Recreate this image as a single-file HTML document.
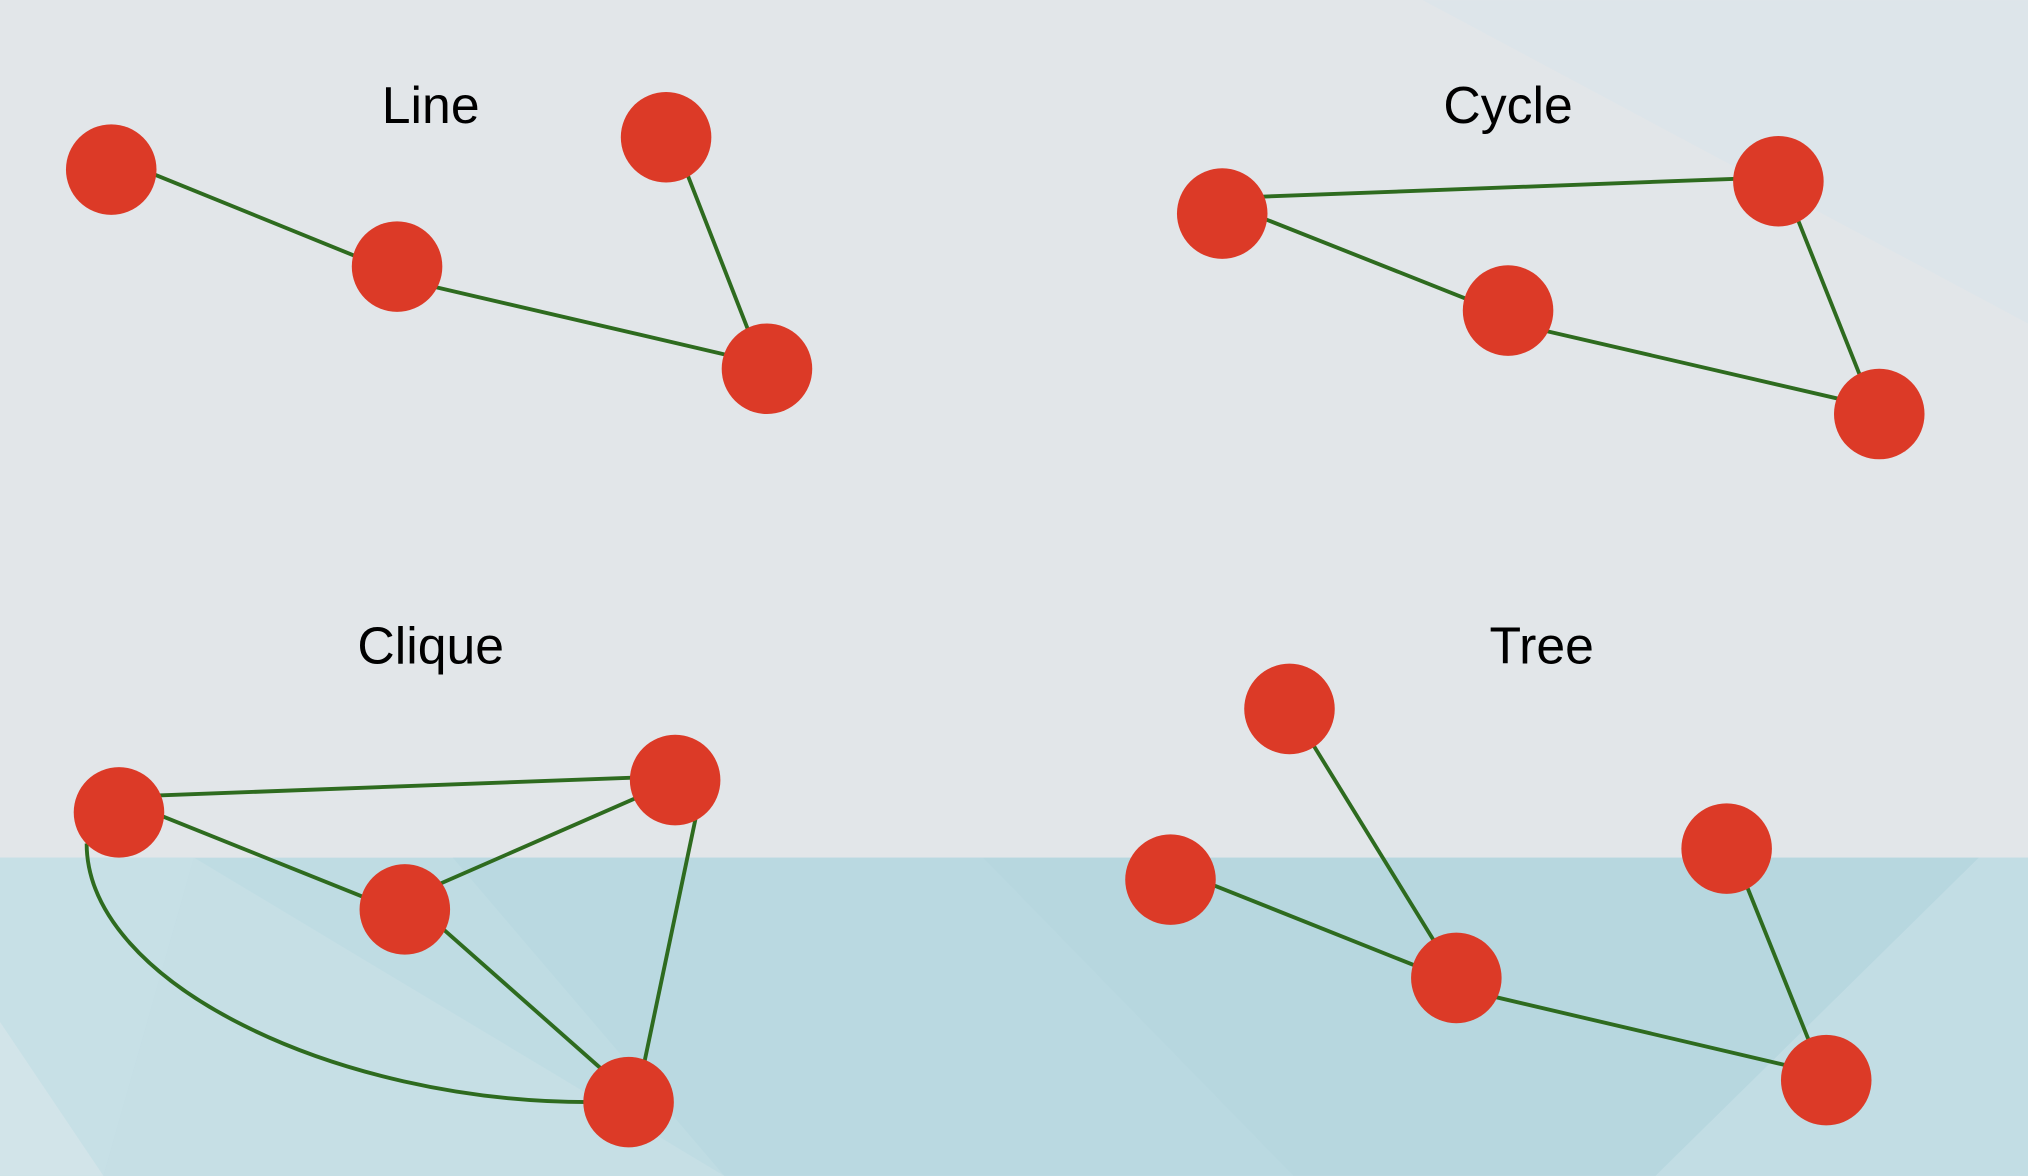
<!DOCTYPE html>
<html><head><meta charset="utf-8"><style>
html,body{margin:0;padding:0;width:2028px;height:1176px;overflow:hidden;background:#e2e6e9}
svg{display:block}
text{font-family:"Liberation Sans",sans-serif;font-size:40px;fill:#000;text-anchor:middle}
</style></head><body>
<svg width="2028" height="1176" viewBox="0 0 1568 909" xmlns="http://www.w3.org/2000/svg">
<rect x="0" y="0" width="1568" height="663" fill="#e2e6e9"/>
<polygon points="1100,0 1568,0 1568,250" fill="#dbe4e9" opacity="0.7"/>
<rect x="0" y="663" width="1568" height="246" fill="#bfdce3"/>
<polygon points="0,663 150,663 80,909 0,909" fill="#c7e0e6"/>
<polygon points="350,663 760,663 1000,909 560,909" fill="#bad9e1"/>
<polygon points="760,663 1530,663 1280,909 1000,909" fill="#b7d7df"/>
<polygon points="1530,663 1568,663 1568,909 1280,909" fill="#c2dde4"/>
<polygon points="0,790 80,909 0,909" fill="#d2e4e9"/>
<polygon points="80,909 150,663 560,909" fill="#c6dfe5"/>
<g stroke="#2e6b1f" stroke-width="3" fill="none">
<line x1="115" y1="133" x2="280" y2="200"/><line x1="333" y1="221" x2="565" y2="275"/><line x1="530" y1="131" x2="580" y2="259"/>
<line x1="973" y1="152" x2="1345" y2="138"/><line x1="975" y1="168" x2="1139" y2="233"/><line x1="1192" y1="255" x2="1425" y2="309"/><line x1="1389" y1="167" x2="1440" y2="295"/>
<line x1="120" y1="615" x2="493" y2="601"/><line x1="123" y1="630" x2="285" y2="695"/><line x1="336" y1="685" x2="496" y2="615"/><line x1="339" y1="715" x2="468" y2="829"/><line x1="539" y1="627" x2="497" y2="827"/>
<path d="M67,652 C67,760 260,852 455,852"/>
<line x1="1013" y1="572" x2="1111" y2="731"/><line x1="935" y1="683" x2="1098" y2="748"/><line x1="1153" y1="770" x2="1383" y2="824"/><line x1="1349" y1="681" x2="1400" y2="808"/>
</g>
<g fill="#dc3a27">
<circle cx="86" cy="131" r="35"/><circle cx="307" cy="206" r="35"/><circle cx="515" cy="106" r="35"/><circle cx="593" cy="285" r="35"/>
<circle cx="945" cy="165" r="35"/><circle cx="1375" cy="140" r="35"/><circle cx="1166" cy="240" r="35"/><circle cx="1453" cy="320" r="35"/>
<circle cx="92" cy="628" r="35"/><circle cx="522" cy="603" r="35"/><circle cx="313" cy="703" r="35"/><circle cx="486" cy="852" r="35"/>
<circle cx="997" cy="548" r="35"/><circle cx="905" cy="680" r="35"/><circle cx="1126" cy="756" r="35"/><circle cx="1335" cy="656" r="35"/><circle cx="1412" cy="835" r="35"/>
</g>
<text x="333" y="95">Line</text>
<text x="1166" y="95">Cycle</text>
<text x="333" y="513">Clique</text>
<text x="1192" y="513">Tree</text>
</svg>
</body></html>
